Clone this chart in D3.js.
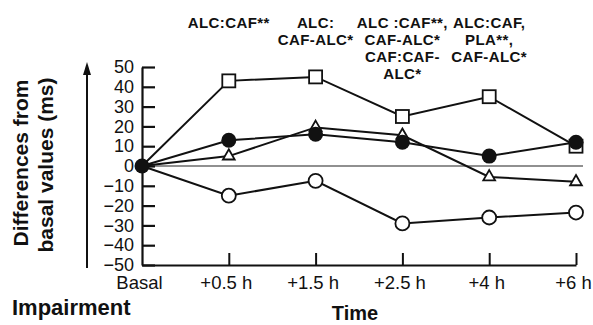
<!DOCTYPE html>
<html lang="en">
<head>
<meta charset="UTF-8">
<script src="https://d3js.org/d3.v7.min.js"></script>
<title>Differences from basal values</title>
<style>
  body { margin: 0; background: #fff; }
  text { font-family: "Liberation Sans", Arial, sans-serif; fill: #111; }
</style>
</head>
<body>
<script>
    // data
    const categories = ["Basal", "+0.5 h", "+1.5 h", "+2.5 h", "+4 h", "+6 h"];
    const squares = [0, 43, 45, 25, 35, 10];
    const triangles = [0, 5, 19.5, 15.5, -5.5, -8];
    const openCircles = [0, -15, -7.5, -29, -26, -23.5];
    const filledCircles = [0, 13, 16, 12, 5, 12];
    const yTicks = [50, 40, 30, 20, 10, 0, -10, -20, -30, -40, -50];
    const annotations = [
        { at: "+0.5 h", lines: ["ALC:CAF**"] },
        { at: "+1.5 h", lines: ["ALC:", "CAF-ALC*"] },
        { at: "+2.5 h", lines: ["ALC :CAF**,", "CAF-ALC*", "CAF:CAF-", "ALC*"] },
        { at: "+4 h", lines: ["ALC:CAF,", "PLA**,", "CAF-ALC*"] }
    ];

    const width = 593, height = 325;
    const plotLeft = 142, plotRight = 576, plotTop = 67, plotBottom = 265;

    const svg = d3.select("body").append("svg")
        .attr("width", width)
        .attr("height", height);

    const x = d3.scalePoint().domain(categories).range([plotLeft, plotRight]);
    const y = d3.scaleLinear().domain([-50, 50]).range([plotBottom, plotTop]);

    // zero line
    svg.append("line")
        .attr("x1", plotLeft).attr("x2", plotRight + 7)
        .attr("y1", y(0)).attr("y2", y(0))
        .attr("stroke", "#222").attr("stroke-width", 1.2);

    // y axis
    const yAxis = svg.append("g")
        .attr("transform", "translate(" + plotLeft + ",0)")
        .call(d3.axisLeft(y).tickValues(yTicks).tickSizeInner(-13).tickSizeOuter(0).tickPadding(8)
            .tickFormat(d => d < 0 ? "\u2212" + Math.abs(d) : d));
    yAxis.select(".domain").attr("stroke", "#111").attr("stroke-width", 2.2);
    yAxis.selectAll(".tick line").attr("stroke", "#111").attr("stroke-width", 2.2);
    yAxis.selectAll("text").style("font-size", "18px").attr("fill", "#111")
        .style("font-family", "'Liberation Sans', Arial, sans-serif");

    // x axis
    const xAxis = svg.append("g")
        .attr("transform", "translate(0," + plotBottom + ")")
        .call(d3.axisBottom(x).tickSizeInner(-12).tickSizeOuter(0).tickPadding(11));
    xAxis.select(".domain").attr("stroke", "#111").attr("stroke-width", 2.2);
    xAxis.selectAll(".tick line").attr("stroke", "#111").attr("stroke-width", 2)
        .filter(d => d === "Basal").remove();
    xAxis.selectAll("text").style("font-size", "18.5px").attr("fill", "#111")
        .attr("dx", "-3")
        .style("font-family", "'Liberation Sans', Arial, sans-serif");

    // series lines
    const line = d3.line().x((d, i) => x(categories[i])).y(d => y(d));
    [squares, triangles, openCircles, filledCircles].forEach(s => {
        svg.append("path")
            .datum(s)
            .attr("d", line)
            .attr("fill", "none")
            .attr("stroke", "#111")
            .attr("stroke-width", 2);
    });

    // markers (the shared basal point only shows the filled circle)
    const points = s => s.map((v, i) => [categories[i], v]);

    svg.selectAll(".sq").data(points(squares).slice(1)).enter().append("rect")
        .attr("x", d => x(d[0]) - 6.5)
        .attr("y", d => y(d[1]) - 6.5)
        .attr("width", 13).attr("height", 13)
        .attr("fill", "#fff").attr("stroke", "#111").attr("stroke-width", 1.8);

    svg.selectAll(".tri").data(points(triangles).slice(1)).enter().append("path")
        .attr("d", d3.symbol().type(d3.symbolTriangle).size(60))
        .attr("transform", d => "translate(" + x(d[0]) + "," + y(d[1]) + ")")
        .attr("fill", "#fff").attr("stroke", "#111").attr("stroke-width", 1.8);

    svg.selectAll(".oc").data(points(openCircles).slice(1)).enter().append("circle")
        .attr("cx", d => x(d[0]))
        .attr("cy", d => y(d[1]))
        .attr("r", 7)
        .attr("fill", "#fff").attr("stroke", "#111").attr("stroke-width", 1.8);

    svg.selectAll(".fc").data(points(filledCircles)).enter().append("circle")
        .attr("cx", d => x(d[0]))
        .attr("cy", d => y(d[1]))
        .attr("r", 7.5)
        .attr("fill", "#111");

    // significance notes above the plot
    annotations.forEach(a => {
        const t = svg.append("text")
            .attr("text-anchor", "middle")
            .style("font-size", "15px")
            .style("letter-spacing", "0.4px")
            .style("font-weight", "bold");
        a.lines.forEach((l, i) => {
            t.append("tspan")
                .attr("x", x(a.at))
                .attr("y", 28 + i * 17)
                .text(l);
        });
    });

    // arrow beside the y axis
    svg.append("line")
        .attr("x1", 87).attr("x2", 87)
        .attr("y1", 268).attr("y2", 72)
        .attr("stroke", "#111").attr("stroke-width", 2);
    svg.append("path")
        .attr("d", "M83,75 L87,62 L91,75 Z")
        .attr("fill", "#111");

    // y axis title
    svg.append("text")
        .attr("transform", "translate(28,163) rotate(-90)")
        .attr("text-anchor", "middle")
        .style("font-size", "21px")
        .style("font-weight", "bold")
        .text("Differences from");
    svg.append("text")
        .attr("transform", "translate(53,165) rotate(-90)")
        .attr("text-anchor", "middle")
        .style("font-size", "21px")
        .style("font-weight", "bold")
        .text("basal values (ms)");

    // bottom labels
    svg.append("text")
        .attr("x", 12).attr("y", 315)
        .style("font-size", "22px")
        .style("font-weight", "bold")
        .text("Impairment");
    svg.append("text")
        .attr("x", 355).attr("y", 320)
        .attr("text-anchor", "middle")
        .style("font-size", "20px")
        .style("font-weight", "bold")
        .text("Time");
</script>
</body>
</html>
